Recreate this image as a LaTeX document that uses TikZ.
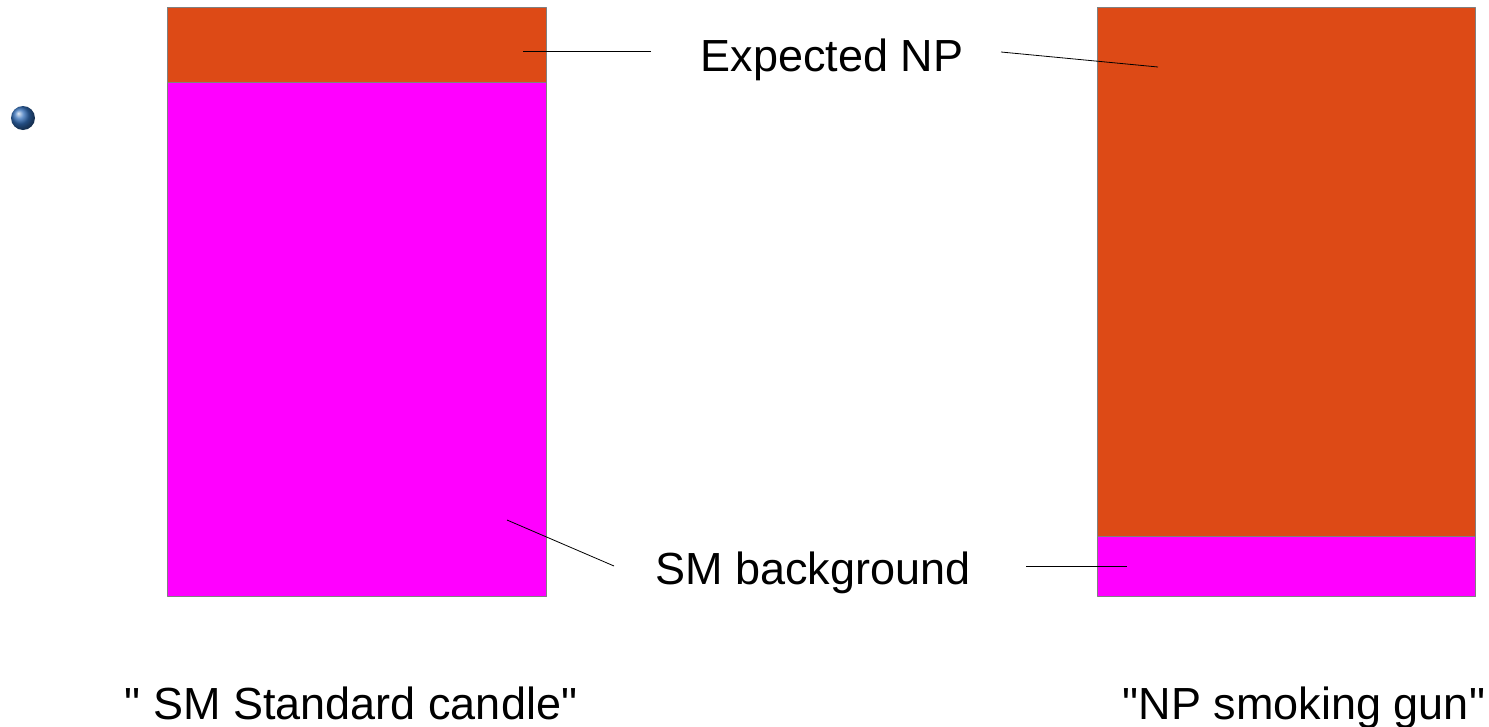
\documentclass[tikz,border=0pt]{standalone}
\usepackage{fontspec}
\setmainfont{Liberation Sans}[Ligatures=TeXOff]
\usetikzlibrary{positioning, shadings}
\definecolor{nporange}{RGB}{221,74,22}
\definecolor{smmagenta}{RGB}{255,0,255}
\definecolor{boxgray}{RGB}{128,128,128}
\definecolor{bulletblue}{RGB}{50,110,185}
\tikzset{npbox/.style={rectangle, fill=nporange, draw=boxgray, line width=1pt, inner sep=0pt, anchor=north west},
smbox/.style={rectangle, fill=smmagenta, draw=boxgray, line width=1pt, inner sep=0pt, anchor=north west}}

\begin{document}
\begin{tikzpicture}[
        x=1pt, y=-1pt,
        line join=bevel,
        bigtext/.style={font=\fontsize{45}{54}\selectfont, inner sep=0pt, anchor=base},
        leader/.style={draw=black, line width=0.8pt}
    ]
        \useasboundingbox (0,0) rectangle (1489,726);
        % Bullet
        \shade[ball color=bulletblue] (23,118) circle (12pt);
        % Boxes
        \node[npbox, minimum width=379pt, minimum height=75pt] (leftnp) at (167,7) {};
        \node[smbox, minimum width=379pt, minimum height=514pt] (leftsm) at (167,82) {};
        \node[npbox, minimum width=378pt, minimum height=529pt] (rightnp) at (1097,7) {};
        \node[smbox, minimum width=378pt, minimum height=60pt] (rightsm) at (1097,536) {};
        % Labels
        \node[bigtext] (expnp) at (832,71) {Expected NP};
        \node[bigtext] (smbg) at (813,584) {SM background};
        \node[bigtext] (candle) at (351,719) {" SM Standard candle"};
        \node[bigtext] (smoking) at (1304,719) {"NP smoking gun"};
        % Leader ends
        \coordinate (npleftout) at (651,51);
        \coordinate (npleftin) at (523,51);
        \coordinate (nprightout) at (1001,52);
        \coordinate (nprightin) at (1158,67);
        \coordinate (smleftout) at (614,566);
        \coordinate (smleftin) at (507,520);
        \coordinate (smrightout) at (1026,566);
        \coordinate (smrightin) at (1127,566);
        % Leaders
        \draw[leader] (npleftout) -- (npleftin);
        \draw[leader] (nprightout) -- (nprightin);
        \draw[leader] (smleftout) -- (smleftin);
        \draw[leader] (smrightout) -- (smrightin);
    \end{tikzpicture}
\end{document}
